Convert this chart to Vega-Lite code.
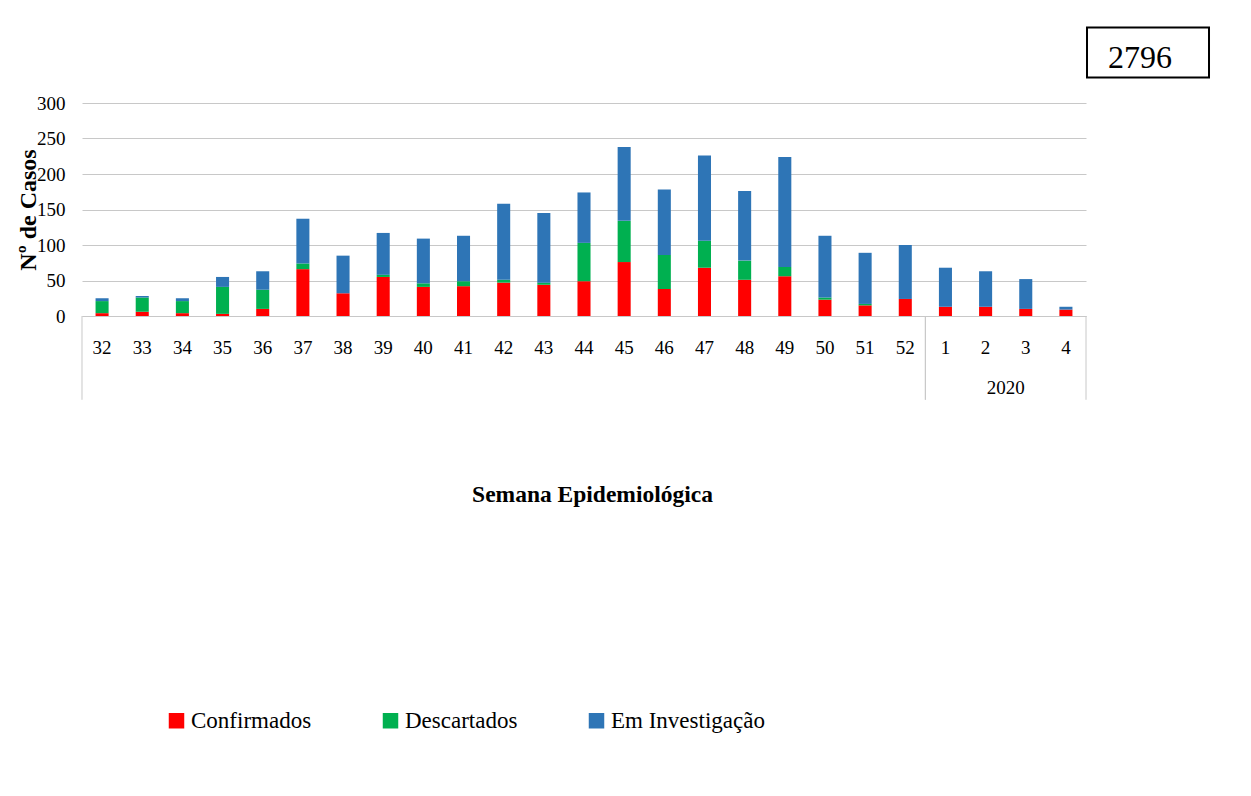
{
  "$schema": "https://vega.github.io/schema/vega-lite/v6.json",
  "width": 1004,
  "height": 213,
  "autosize": "none",
  "padding": {"left": 82, "top": 103, "right": 165, "bottom": 480},
  "background": "white",
  "config": {"font": "Liberation Serif", "view": {"stroke": null}},
  "datasets": {
    "weeks": [
      {"week": "32", "Confirmados": 4, "Descartados": 17, "Em Investigação": 4},
      {"week": "33", "Confirmados": 6, "Descartados": 20, "Em Investigação": 2},
      {"week": "34", "Confirmados": 4, "Descartados": 17, "Em Investigação": 4},
      {"week": "35", "Confirmados": 3, "Descartados": 38, "Em Investigação": 14},
      {"week": "36", "Confirmados": 10, "Descartados": 27, "Em Investigação": 26},
      {"week": "37", "Confirmados": 66, "Descartados": 8, "Em Investigação": 63},
      {"week": "38", "Confirmados": 32, "Descartados": 0, "Em Investigação": 53},
      {"week": "39", "Confirmados": 55, "Descartados": 3, "Em Investigação": 59},
      {"week": "40", "Confirmados": 41, "Descartados": 5, "Em Investigação": 63},
      {"week": "41", "Confirmados": 42, "Descartados": 7, "Em Investigação": 64},
      {"week": "42", "Confirmados": 47, "Descartados": 4, "Em Investigação": 107},
      {"week": "43", "Confirmados": 44, "Descartados": 3, "Em Investigação": 98},
      {"week": "44", "Confirmados": 49, "Descartados": 54, "Em Investigação": 71},
      {"week": "45", "Confirmados": 76, "Descartados": 58, "Em Investigação": 104},
      {"week": "46", "Confirmados": 38, "Descartados": 48, "Em Investigação": 92},
      {"week": "47", "Confirmados": 68, "Descartados": 38, "Em Investigação": 120},
      {"week": "48", "Confirmados": 51, "Descartados": 27, "Em Investigação": 98},
      {"week": "49", "Confirmados": 56, "Descartados": 13, "Em Investigação": 155},
      {"week": "50", "Confirmados": 23, "Descartados": 3, "Em Investigação": 87},
      {"week": "51", "Confirmados": 15, "Descartados": 2, "Em Investigação": 72},
      {"week": "52", "Confirmados": 24, "Descartados": 0, "Em Investigação": 76},
      {"week": "1", "Confirmados": 13, "Descartados": 0, "Em Investigação": 55},
      {"week": "2", "Confirmados": 13, "Descartados": 0, "Em Investigação": 50},
      {"week": "3", "Confirmados": 10, "Descartados": 0, "Em Investigação": 42},
      {"week": "4", "Confirmados": 9, "Descartados": 0, "Em Investigação": 4}
    ],
    "groups": [
      {"year": "", "first": "32", "last": "52"},
      {"year": "2020", "first": "1", "last": "4"}
    ],
    "total": [{"week": "4", "label": "2796"}]
  },
  "layer": [
    {
      "data": {"name": "weeks"},
      "transform": [{"fold": ["Confirmados", "Descartados", "Em Investigação"], "as": ["Situação", "Casos"]}],
      "mark": {"type": "bar"},
      "encoding": {
        "x": {
          "field": "week", "type": "ordinal",
          "scale": {"domain": ["32","33","34","35","36","37","38","39","40","41","42","43","44","45","46","47","48","49","50","51","52","1","2","3","4"], "paddingInner": 0.675, "paddingOuter": 0.3375},
          "axis": {"title": "Semana Epidemiológica", "titleFontSize": 23.5, "titleFontWeight": "bold", "titleColor": "black", "titleX": 510, "titleY": 178, "titleBaseline": "middle", "labelAngle": 0, "labelFontSize": 19, "labelColor": "black", "labelPadding": 22, "ticks": false, "domainColor": "#c8c8c8", "domainWidth": 1}
        },
        "y": {
          "field": "Casos", "type": "quantitative", "stack": "zero",
          "scale": {"domain": [0, 300]},
          "axis": {"values": [0, 50, 100, 150, 200, 250, 300], "labelOverlap": false, "title": "Nº de Casos", "titleFontSize": 24, "titleFontWeight": "bold", "titleColor": "black", "titleX": -54, "titleBaseline": "middle", "labelFontSize": 19, "labelColor": "black", "labelPadding": 17, "ticks": false, "domain": false, "gridColor": "#c8c8c8", "gridWidth": 1}
        },
        "color": {
          "field": "Situação", "type": "nominal",
          "scale": {"domain": ["Confirmados", "Descartados", "Em Investigação"], "range": ["#FF0000", "#00B050", "#2E75B6"]},
          "legend": {"orient": "none", "legendX": 83, "legendY": 606, "direction": "horizontal", "title": null, "symbolType": "square", "symbolSize": 240, "symbolStrokeWidth": 0, "labelFontSize": 23, "labelColor": "black", "labelOffset": 3, "columnPadding": 67, "padding": 0}
        },
        "order": {"field": "Situação", "type": "nominal", "sort": "ascending"}
      }
    },
    {
      "data": {"name": "groups"},
      "mark": {"type": "rule", "color": "#c8c8c8", "strokeWidth": 1},
      "encoding": {
        "x": {"field": "first", "type": "ordinal", "bandPosition": -1.0385},
        "y": {"datum": 0, "type": "quantitative", "axis": {"values": [0, 50, 100, 150, 200, 250, 300], "labelOverlap": false, "title": "Nº de Casos", "titleFontSize": 24, "titleFontWeight": "bold", "titleColor": "black", "titleX": -54, "titleBaseline": "middle", "labelFontSize": 19, "labelColor": "black", "labelPadding": 17, "ticks": false, "domain": false, "gridColor": "#c8c8c8", "gridWidth": 1}},
        "y2": {"datum": -118}
      }
    },
    {
      "data": {"name": "groups"},
      "mark": {"type": "rule", "color": "#c8c8c8", "strokeWidth": 1},
      "encoding": {
        "x": {"field": "last", "type": "ordinal", "bandPosition": 2.0385},
        "y": {"datum": 0, "type": "quantitative", "axis": {"values": [0, 50, 100, 150, 200, 250, 300], "labelOverlap": false, "title": "Nº de Casos", "titleFontSize": 24, "titleFontWeight": "bold", "titleColor": "black", "titleX": -54, "titleBaseline": "middle", "labelFontSize": 19, "labelColor": "black", "labelPadding": 17, "ticks": false, "domain": false, "gridColor": "#c8c8c8", "gridWidth": 1}},
        "y2": {"datum": -118}
      }
    },
    {
      "data": {"name": "groups"},
      "mark": {"type": "text", "fontSize": 19, "color": "black", "align": "center", "baseline": "alphabetic"},
      "encoding": {
        "x": {"field": "first", "type": "ordinal", "bandPosition": 5.1154},
        "y": {"datum": -110, "type": "quantitative", "axis": {"values": [0, 50, 100, 150, 200, 250, 300], "labelOverlap": false, "title": "Nº de Casos", "titleFontSize": 24, "titleFontWeight": "bold", "titleColor": "black", "titleX": -54, "titleBaseline": "middle", "labelFontSize": 19, "labelColor": "black", "labelPadding": 17, "ticks": false, "domain": false, "gridColor": "#c8c8c8", "gridWidth": 1}},
        "text": {"field": "year"}
      }
    },
    {
      "data": {"name": "total"},
      "mark": {"type": "point", "shape": "M-1,-0.41L1,-0.41L1,0.41L-1,0.41Z", "size": 14884, "filled": false, "fill": null, "stroke": "black", "strokeWidth": 2, "opacity": 1},
      "encoding": {
        "x": {"field": "week", "type": "ordinal", "bandPosition": 6.789},
        "y": {"datum": 371, "type": "quantitative", "axis": {"values": [0, 50, 100, 150, 200, 250, 300], "labelOverlap": false, "title": "Nº de Casos", "titleFontSize": 24, "titleFontWeight": "bold", "titleColor": "black", "titleX": -54, "titleBaseline": "middle", "labelFontSize": 19, "labelColor": "black", "labelPadding": 17, "ticks": false, "domain": false, "gridColor": "#c8c8c8", "gridWidth": 1}}
      }
    },
    {
      "data": {"name": "total"},
      "mark": {"type": "text", "fontSize": 32, "color": "black", "align": "center", "baseline": "alphabetic"},
      "encoding": {
        "x": {"field": "week", "type": "ordinal", "bandPosition": 6.176},
        "y": {"datum": 349, "type": "quantitative", "axis": {"values": [0, 50, 100, 150, 200, 250, 300], "labelOverlap": false, "title": "Nº de Casos", "titleFontSize": 24, "titleFontWeight": "bold", "titleColor": "black", "titleX": -54, "titleBaseline": "middle", "labelFontSize": 19, "labelColor": "black", "labelPadding": 17, "ticks": false, "domain": false, "gridColor": "#c8c8c8", "gridWidth": 1}},
        "text": {"field": "label"}
      }
    }
  ]
}
